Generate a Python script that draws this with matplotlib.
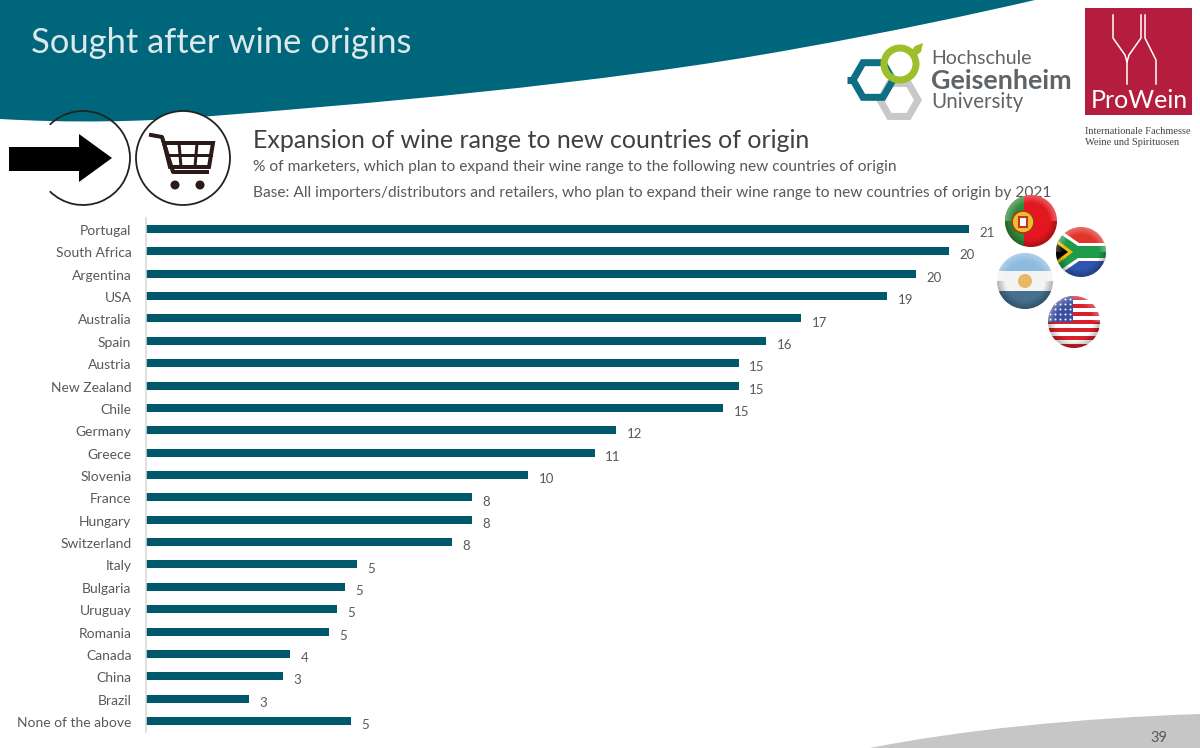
import numpy as np
import matplotlib
matplotlib.use('Agg')
import matplotlib.pyplot as plt
from matplotlib.patches import Arc, Circle, Polygon, PathPatch, Rectangle, RegularPolygon
from matplotlib.path import Path
from matplotlib.transforms import ScaledTranslation

plt.rcParams['font.family'] = ['Lato', 'DejaVu Sans']

countries = ["Portugal", "South Africa", "Argentina", "USA", "Australia", "Spain", "Austria",
             "New Zealand", "Chile", "Germany", "Greece", "Slovenia", "France", "Hungary",
             "Switzerland", "Italy", "Bulgaria", "Uruguay", "Romania", "Canada", "China",
             "Brazil", "None of the above"]
# bar lengths, the labels are the rounded numbers printed next to them
shares = [21.1, 20.6, 19.75, 19.0, 16.8, 15.9, 15.2, 15.2, 14.8, 12.05, 11.5, 9.8, 8.35, 8.35,
          7.85, 5.4, 5.1, 4.9, 4.7, 3.7, 3.5, 2.65, 5.25]
share_labels = ["21", "20", "20", "19", "17", "16", "15", "15", "15", "12", "11", "10", "8",
                "8", "8", "5", "5", "5", "5", "4", "3", "3", "5"]

TEAL = "#00667B"
BAR = "#00596A"
GREY_TEXT = "#595959"
W, H = 1200, 748


def px(n):
    return n * 0.72


def overlay(fig, zorder):
    ax = fig.add_axes([0, 0, 1, 1], zorder=zorder)
    ax.set_xlim(0, W)
    ax.set_ylim(H, 0)
    ax.axis('off')
    ax.patch.set_alpha(0)
    return ax


def draw_header(ax):
    verts = [(0, 0), (0, 119),
             (70, 123), (140, 122), (200, 117),
             (350, 105), (600, 85), (800, 48),
             (890, 32), (970, 15), (1035, 0),
             (0, 0)]
    codes = [Path.MOVETO, Path.LINETO] + [Path.CURVE4] * 9 + [Path.CLOSEPOLY]
    ax.add_patch(PathPatch(Path(verts, codes), fc=TEAL, ec='none'))
    verts = [(870, 748), (960, 730), (1080, 718), (1200, 714), (1200, 748), (870, 748)]
    codes = [Path.MOVETO, Path.CURVE4, Path.CURVE4, Path.CURVE4, Path.LINETO, Path.CLOSEPOLY]
    ax.add_patch(PathPatch(Path(verts, codes), fc="#C6C6C6", ec='none'))
    ax.text(1159, 738, "39", fontsize=10.5, color=GREY_TEXT, ha='center', va='center')
    ax.text(31, 43, "Sought after wine origins", fontsize=24.8, color="#DCE8EA", va='center')
    ax.text(253, 140, "Expansion of wine range to new countries of origin", fontsize=18,
            color="#404040", va='center')
    ax.text(253, 167, "% of marketers, which plan to expand their wine range to the following new countries of origin",
            fontsize=11.2, color=GREY_TEXT, va='center')
    ax.text(253, 193, "Base: All importers/distributors and retailers, who plan to expand their wine range to new countries of origin by 2021",
            fontsize=11.13, color=GREY_TEXT, va='center')


def draw_icons(ax):
    ax.add_patch(Circle((183, 158), 47, fc='white', ec="#222222", lw=1.3))
    ax.add_patch(Arc((83, 158), 94, 94, theta1=-135, theta2=135, ec="#222222", lw=1.3, fc='none'))
    ax.add_patch(Polygon([(9, 147), (79, 147), (79, 134), (112, 158), (79, 182), (79, 171), (9, 171)],
                         fc='black', ec='none'))
    cart = "#2B1A17"
    ax.plot([151, 162, 173, 207], [135, 137, 172, 172], color=cart, lw=px(4))
    ax.add_patch(Polygon([(164, 143), (213, 143), (209, 167), (170, 167)], fc='none', ec=cart, lw=px(4)))
    ax.plot([167, 211], [155, 155], color=cart, lw=px(3))
    ax.plot([179, 181], [143, 167], color=cart, lw=px(3))
    ax.plot([197, 195], [143, 167], color=cart, lw=px(3))
    ax.add_patch(Circle((175, 185), 4.5, fc=cart, ec='none'))
    ax.add_patch(Circle((200, 185), 4.5, fc=cart, ec='none'))


def draw_logos(ax):
    ax.add_patch(RegularPolygon((899, 100), 6, radius=19, orientation=np.pi / 6, fc='none', ec="#C8C8C8", lw=px(7)))
    ax.add_patch(RegularPolygon((873, 80), 6, radius=20, orientation=np.pi / 6, fc='none', ec="#0E6E82", lw=px(7)))
    ax.plot([847, 856], [80, 80], color="#0E6E82", lw=px(7), solid_capstyle='butt')
    ax.add_patch(Circle((900, 64), 16, fc='none', ec="#9CBF2A", lw=px(7)))
    ax.add_patch(Polygon([(909, 54), (915, 46), (923, 43), (921, 52), (914, 57)], fc="#9CBF2A", ec='none'))
    ax.text(931, 58, "Hochschule", fontsize=14, color="#5F6468", va='center')
    ax.text(931, 81, "Geisenheim", fontsize=19.4, fontweight='bold', color="#5F6468", va='center')
    ax.text(931, 102, "University", fontsize=14.8, color="#5F6468", va='center')

    ax.add_patch(Rectangle((1085, 8), 107, 107, fc="#B51D3F", ec='none'))
    for xs, ys in [([1113, 1113, 1125, 1127, 1127], [15, 38, 55, 62, 84]),
                   ([1141, 1141, 1129, 1127], [15, 38, 55, 62]),
                   ([1145, 1145, 1156, 1156], [15, 38, 60, 84])]:
        ax.plot(xs, ys, color='white', lw=1.1)
    ax.text(1139, 100, "ProWein", fontsize=18, color='white', ha='center', va='center')
    ax.text(1085, 131, "Internationale Fachmesse", fontsize=7.5, color="#444444", family='Liberation Serif', va='center')
    ax.text(1085, 142, "Weine und Spirituosen", fontsize=7.5, color="#444444", family='Liberation Serif', va='center')


def shade(ax, cx, cy, r, clip):
    # sphere look: light rim at the top, a little darker at the bottom
    n = 120
    yy, xx = np.mgrid[-1:1:n * 1j, -1:1:n * 1j]
    d = np.hypot(xx, yy)
    rgba = np.zeros((n, n, 4))
    lower = yy > 0
    rgba[..., :3] = np.where(lower[..., None], 0.0, 1.0)
    rgba[..., 3] = np.where(lower, np.clip((d - 0.7) * 0.9, 0, 0.25), np.clip((d - 0.7) * 1.0, 0, 0.3))
    im = ax.imshow(rgba, extent=(cx - r, cx + r, cy + r, cy - r), aspect='auto', zorder=5)
    im.set_clip_path(clip)


def draw_flags(ax):
    # Portugal
    cx, cy, r = 1031, 221, 26
    clip = Circle((cx, cy), r, transform=ax.transData)
    ax.add_patch(Circle((cx, cy), r, fc="#E3171F", ec='none', zorder=4))
    p = Rectangle((cx - r, cy - r), 19, 2 * r, fc="#2E8B3A", ec='none', zorder=4)
    ax.add_patch(p)
    p.set_clip_path(clip)
    ax.add_patch(Circle((cx - 8, cy + 1), 11, fc="#E8C42A", ec="#B5301F", lw=1.2, zorder=4))
    ax.add_patch(Rectangle((cx - 12, cy - 4), 8, 10, fc='white', ec="#C8342A", lw=1.5, zorder=4))
    shade(ax, cx, cy, r, clip)

    # South Africa
    cx, cy, r = 1081, 252, 25
    clip = Circle((cx, cy), r, transform=ax.transData)
    for patch in [Rectangle((cx - r, cy - r), 2 * r, r, fc="#E0352B", ec='none', zorder=4),
                  Rectangle((cx - r, cy), 2 * r, r, fc="#2F55B0", ec='none', zorder=4),
                  Polygon([(cx - r, cy - r), (cx - 2, cy - 9), (cx + r, cy - 9), (cx + r, cy + 9),
                           (cx - 2, cy + 9), (cx - r, cy + r)], fc='white', ec='none', zorder=4),
                  Polygon([(cx - r, cy - 21), (cx - 3, cy - 6), (cx + r, cy - 6), (cx + r, cy + 6),
                           (cx - 3, cy + 6), (cx - r, cy + 21)], fc="#1E9A48", ec='none', zorder=4),
                  Polygon([(cx - r, cy - 13), (cx - 8, cy), (cx - r, cy + 13)], fc="#F2B90F", ec='none', zorder=4),
                  Polygon([(cx - r, cy - 9), (cx - 13, cy), (cx - r, cy + 9)], fc="black", ec='none', zorder=4)]:
        ax.add_patch(patch)
        patch.set_clip_path(clip)
    shade(ax, cx, cy, r, clip)

    # Argentina
    cx, cy, r = 1025, 281, 28
    clip = Circle((cx, cy), r, transform=ax.transData)
    ax.add_patch(Circle((cx, cy), r, fc="#F3F3F3", ec='none', zorder=4))
    for top in (cy - r, cy + 10):
        p = Rectangle((cx - r, top), 2 * r, 18, fc="#8DBBE0" if top < cy else "#46708F", ec='none', zorder=4)
        ax.add_patch(p)
        p.set_clip_path(clip)
    ax.add_patch(Circle((cx, cy), 7, fc="#E9B766", ec='none', zorder=4))
    shade(ax, cx, cy, r, clip)

    # USA
    cx, cy, r = 1074, 322, 26
    clip = Circle((cx, cy), r, transform=ax.transData)
    ax.add_patch(Circle((cx, cy), r, fc="white", ec='none', zorder=4))
    for i in range(0, 13, 2):
        p = Rectangle((cx - r, cy - r + i * 4), 2 * r, 4, fc="#D81F2A", ec='none', zorder=4)
        ax.add_patch(p)
        p.set_clip_path(clip)
    p = Rectangle((cx - r, cy - r), 25, 26, fc="#3A4FA0", ec='none', zorder=4)
    ax.add_patch(p)
    p.set_clip_path(clip)
    sx, sy = np.meshgrid(np.arange(cx - 24, cx, 5), np.arange(cy - 23, cy - 1, 5))
    s = ax.scatter(sx.ravel(), sy.ravel(), s=2, c='white', linewidths=0, zorder=4)
    s.set_clip_path(clip)
    shade(ax, cx, cy, r, clip)
    ax.set_xlim(0, W)
    ax.set_ylim(H, 0)


def draw_chart(fig):
    # axes in picture pixels: x from the axis line at 146, one share point is 39 px
    left, right, top, bottom = 146, 1146, 218, 732
    ax = fig.add_axes([left / W, 1 - bottom / H, (right - left) / W, (bottom - top) / H], zorder=1)
    ax.patch.set_alpha(0)
    y = np.arange(len(countries))
    ax.barh(y, shares, height=0.36, color=BAR)
    ax.set_xlim(0, (right - left) / 39)
    ax.set_ylim(len(countries) - 1 + 0.49, -0.49)
    ax.set_yticks(y, countries)
    ax.tick_params(axis='y', length=0, pad=10.5, labelsize=10, labelcolor=GREY_TEXT)
    # labels sit one pixel below the bar centre
    nudge = ScaledTranslation(0, -1 / fig.dpi, fig.dpi_scale_trans)
    for lab in ax.get_yticklabels():
        lab.set_transform(lab.get_transform() + nudge)
    ax.set_xticks([])
    for side in ['top', 'right', 'bottom']:
        ax.spines[side].set_visible(False)
    ax.spines['left'].set_color("#D9D9D9")
    ax.spines['left'].set_linewidth(1.2)
    for yi, val, lab in zip(y, shares, share_labels):
        ax.annotate(lab, (val, yi), xytext=(7.5, -3), textcoords='offset points', fontsize=9.5,
                    color=GREY_TEXT, va='center', ha='left')


fig = plt.figure(figsize=(12, 7.48), dpi=100, facecolor='white')
bg = overlay(fig, 0)
draw_header(bg)
draw_icons(bg)
draw_logos(bg)
draw_chart(fig)
front = overlay(fig, 2)
draw_flags(front)
fig.savefig("out.png", dpi=100)
